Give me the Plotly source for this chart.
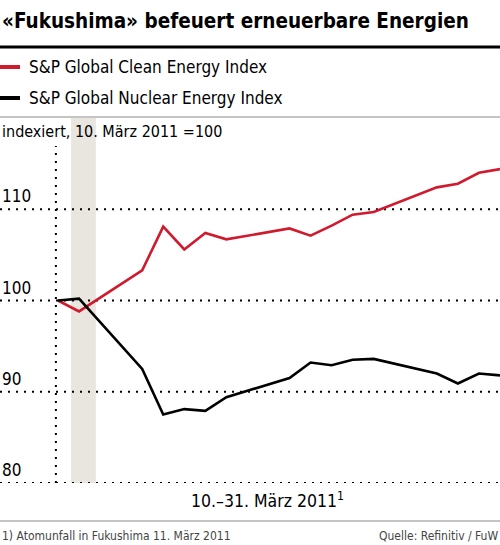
import plotly.graph_objects as go

days = [10, 11, 14, 15, 16, 17, 18, 21, 22, 23, 24, 25, 28, 29, 30, 31]
clean = [100, 98.8, 103.3, 108.1, 105.6, 107.4, 106.7, 107.9, 107.1, 108.2, 109.4, 109.7, 112.4, 112.8, 114.0, 114.4]
nuclear = [100, 100.2, 92.5, 87.5, 88.1, 87.9, 89.4, 91.5, 93.2, 92.9, 93.5, 93.6, 92.0, 90.9, 92.0, 91.8]
yticks = [80, 90, 100, 110]
series_names = ["S&P Global Clean Energy Index", "S&P Global Nuclear Energy Index"]

RED = "#d01a2e"
FONT = "DejaVu Sans Condensed, Liberation Sans Narrow, sans-serif"

W, H = 500, 545
TOP, BOT = 118, 483  # plot area pixel rows


def py(ypx):
    return (BOT - ypx) / (BOT - TOP)


fig = go.Figure()
fig.add_trace(go.Scatter(x=days, y=clean, mode="lines", line=dict(color=RED, width=2.6),
                         name=series_names[0], hoverinfo="skip"))
fig.add_trace(go.Scatter(x=days, y=nuclear, mode="lines", line=dict(color="black", width=2.6),
                         name=series_names[1], hoverinfo="skip"))

x0 = 10 - 58 / 21.05
shapes = []
shapes.append(dict(type="rect", xref="x", yref="paper", x0=10.62, x1=11.8, y0=0, y1=1,
                   fillcolor="#e8e6df", line=dict(width=0), layer="below"))
for v in yticks:
    shapes.append(dict(type="line", xref="paper", yref="y", x0=0, x1=1, y0=v, y1=v,
                       line=dict(color="black", width=2, dash="2px,6px"), layer="below"))
shapes.append(dict(type="line", xref="x", yref="paper", x0=9.9, x1=9.9, y0=0, y1=py(146),
                   line=dict(color="black", width=2, dash="2px,6px"), layer="below"))
shapes.append(dict(type="line", xref="paper", yref="paper", x0=0, x1=1, y0=py(47), y1=py(47),
                   line=dict(color="black", width=3)))
shapes.append(dict(type="line", xref="paper", yref="paper", x0=0, x1=1, y0=py(117), y1=py(117),
                   line=dict(color="#8a8a8a", width=1)))
shapes.append(dict(type="line", xref="paper", yref="paper", x0=0, x1=1, y0=py(521), y1=py(521),
                   line=dict(color="#8a8a8a", width=1.2)))
shapes.append(dict(type="line", xref="paper", yref="paper", x0=0, x1=20 / W, y0=py(67), y1=py(67),
                   line=dict(color=RED, width=4)))
shapes.append(dict(type="line", xref="paper", yref="paper", x0=0, x1=20 / W, y0=py(98), y1=py(98),
                   line=dict(color="black", width=4)))

ann = []
ann.append(dict(text="<b>«Fukushima» befeuert erneuerbare Energien</b>", x=0, y=py(21), xref="paper", yref="paper",
                xanchor="left", yanchor="middle", showarrow=False, font=dict(family=FONT, size=20.5, color="black")))
ann.append(dict(text=series_names[0], x=27 / W, y=py(67), xref="paper", yref="paper",
                xanchor="left", yanchor="middle", showarrow=False, font=dict(family=FONT, size=17, color="black")))
ann.append(dict(text=series_names[1], x=27 / W, y=py(98), xref="paper", yref="paper",
                xanchor="left", yanchor="middle", showarrow=False, font=dict(family=FONT, size=17, color="black")))
ann.append(dict(text="indexiert, 10. März 2011 =100", x=0, y=py(131), xref="paper", yref="paper",
                xanchor="left", yanchor="middle", showarrow=False, font=dict(family=FONT, size=16, color="black")))
for v in yticks:
    ann.append(dict(text=str(v), x=0, y=v, xref="paper", yref="y", xanchor="left", yanchor="bottom",
                    yshift=1, showarrow=False, font=dict(family=FONT, size=17, color="black")))
ann.append(dict(text="10.–31. März 2011<sup>1</sup>", x=267 / W, y=py(500), xref="paper", yref="paper",
                xanchor="center", yanchor="middle", showarrow=False, font=dict(family=FONT, size=17.5, color="black")))
ann.append(dict(text="1) Atomunfall in Fukushima 11. März 2011", x=0, y=py(536), xref="paper", yref="paper",
                xanchor="left", yanchor="middle", showarrow=False, font=dict(family=FONT, size=12, color="#444444")))
ann.append(dict(text="Quelle: Refinitiv / FuW", x=1, y=py(536), xref="paper", yref="paper",
                xanchor="right", yanchor="middle", showarrow=False, font=dict(family=FONT, size=12, color="#444444")))

fig.update_layout(
    width=W, height=H,
    margin=dict(l=0, r=0, t=TOP, b=H - BOT, pad=0),
    paper_bgcolor="white", plot_bgcolor="white",
    showlegend=False,
    xaxis=dict(range=[x0, 31], showgrid=False, zeroline=False, showticklabels=False, showline=False, fixedrange=True),
    yaxis=dict(range=[80, 120], showgrid=False, zeroline=False, showticklabels=False, showline=False, fixedrange=True),
    shapes=shapes, annotations=ann,
)
fig.write_html("out.html", config={"displayModeBar": False},
               post_script="document.body.style.margin='0';document.body.style.padding='0';")
